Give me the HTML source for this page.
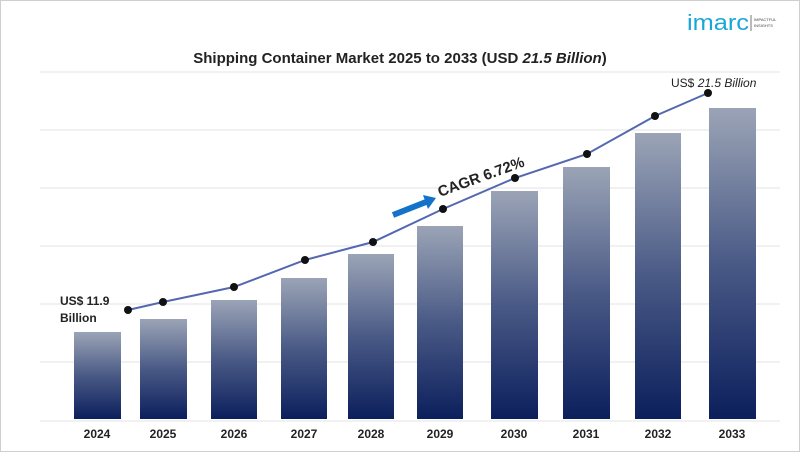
<!DOCTYPE html>
<html><head><style>
body{margin:0;background:#fff}
svg{display:block;font-family:"Liberation Sans",sans-serif}
</style></head><body>
<svg width="800" height="452" viewBox="0 0 800 452">
<defs>
<linearGradient id="g" x1="0" y1="0" x2="0" y2="1">
<stop offset="0" stop-color="#9ba4b6"/><stop offset="0.5" stop-color="#4a5a86"/><stop offset="1" stop-color="#0b1f5c"/>
</linearGradient>
</defs>
<rect x="0.5" y="0.5" width="799" height="451" fill="#fff" stroke="#cfcfcf"/>
<g stroke="#e3e3e3" stroke-width="1">
<line x1="40" y1="72" x2="780" y2="72"/><line x1="40" y1="130" x2="780" y2="130"/>
<line x1="40" y1="188" x2="780" y2="188"/><line x1="40" y1="246" x2="780" y2="246"/>
<line x1="40" y1="304" x2="780" y2="304"/><line x1="40" y1="362" x2="780" y2="362"/>
<line x1="40" y1="421" x2="780" y2="421"/>
</g>
<text x="400" y="63" text-anchor="middle" font-size="15" font-weight="bold" fill="#222">Shipping Container Market 2025 to 2033 (USD <tspan font-style="italic">21.5 Billion</tspan>)</text>
<text x="687" y="30" font-size="22" fill="#1aa7d8" textLength="62" lengthAdjust="spacingAndGlyphs">imarc</text>
<line x1="751" y1="15" x2="751" y2="31" stroke="#555" stroke-width="0.8"/>
<text x="754" y="21" font-size="4" fill="#444">IMPACTFUL</text><text x="754" y="27" font-size="4" fill="#444">INSIGHTS</text>
<g fill="url(#g)">
<rect x="74" y="332" width="47" height="87"/><rect x="140" y="319" width="47" height="100"/>
<rect x="211" y="300" width="46" height="119"/><rect x="281" y="278" width="46" height="141"/>
<rect x="348" y="254" width="46" height="165"/><rect x="417" y="226" width="46" height="193"/>
<rect x="491" y="191" width="47" height="228"/><rect x="563" y="167" width="47" height="252"/>
<rect x="635" y="133" width="46" height="286"/><rect x="709" y="108" width="47" height="311"/>
</g>
<polyline points="128,310 163,302 234,287 305,260 373,242 443,209 515,178 587,154 655,116 708,93" fill="none" stroke="#5368b0" stroke-width="2"/>
<g fill="#111">
<circle cx="128" cy="310" r="4"/><circle cx="163" cy="302" r="4"/><circle cx="234" cy="287" r="4"/>
<circle cx="305" cy="260" r="4"/><circle cx="373" cy="242" r="4"/><circle cx="443" cy="209" r="4"/>
<circle cx="515" cy="178" r="4"/><circle cx="587" cy="154" r="4"/><circle cx="655" cy="116" r="4"/>
<circle cx="708" cy="93" r="4"/>
</g>
<g font-size="12" font-weight="bold" fill="#222" text-anchor="middle">
<text x="97" y="438">2024</text><text x="163" y="438">2025</text><text x="234" y="438">2026</text>
<text x="304" y="438">2027</text><text x="371" y="438">2028</text><text x="440" y="438">2029</text>
<text x="514" y="438">2030</text><text x="586" y="438">2031</text><text x="658" y="438">2032</text>
<text x="732" y="438">2033</text>
</g>
<text x="60" y="305" font-size="12" font-weight="bold" fill="#222">US$ 11.9</text>
<text x="60" y="322" font-size="12" font-weight="bold" fill="#222">Billion</text>
<text x="671" y="87" font-size="12" fill="#222">US$ <tspan font-style="italic">21.5 Billion</tspan></text>
<line x1="393" y1="215" x2="426" y2="202" stroke="#1473c8" stroke-width="6"/>
<polygon points="423,195 436,198 428,209" fill="#1473c8"/>
<text x="440" y="197" font-size="15" font-weight="bold" fill="#222" transform="rotate(-20 440 197)">CAGR 6.72%</text>
</svg>
</body></html>
